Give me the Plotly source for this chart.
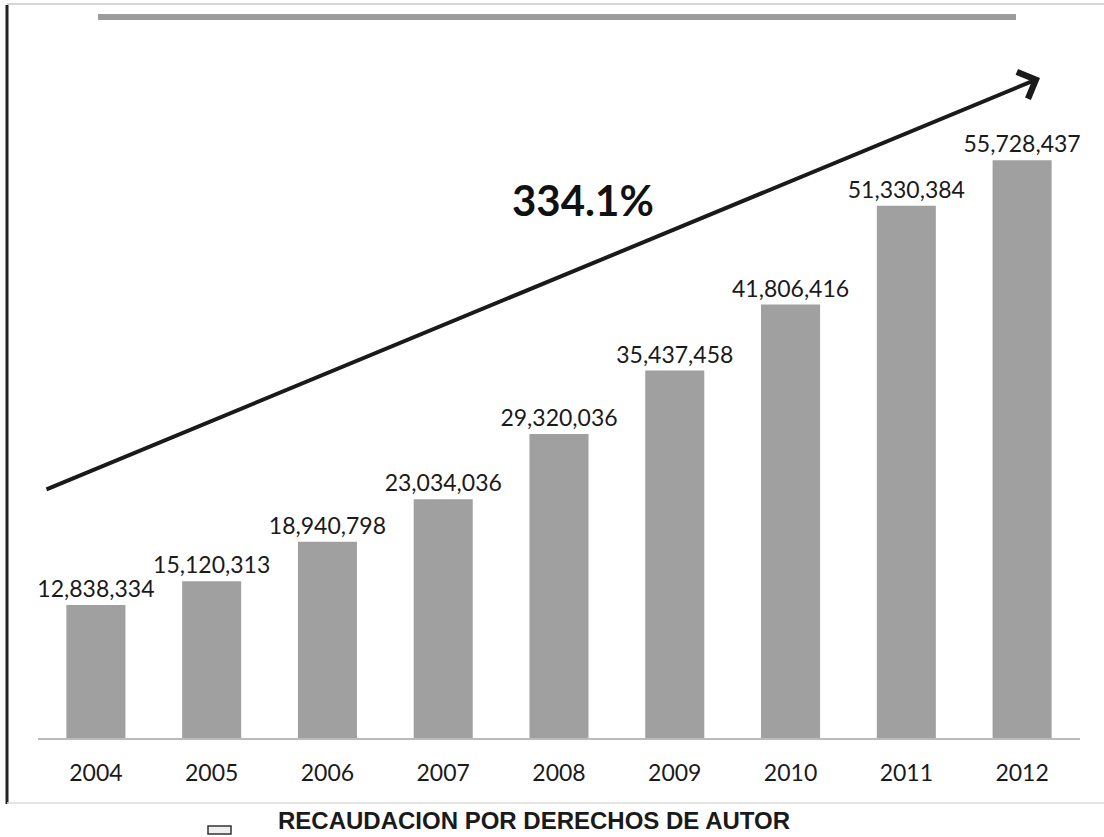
import plotly.graph_objects as go

years = ["2004", "2005", "2006", "2007", "2008", "2009", "2010", "2011", "2012"]
recaudacion = [12838334, 15120313, 18940798, 23034036, 29320036, 35437458, 41806416, 51330384, 55728437]
series_name = "RECAUDACION POR DERECHOS DE AUTOR"
growth_label = "334.1%"

labels = [f"{v:,}" for v in recaudacion]

fig = go.Figure()
fig.add_trace(go.Bar(
    x=years, y=recaudacion, name=series_name,
    marker=dict(color="#a0a0a0", line=dict(width=0)),
    text=labels, textposition="outside", cliponaxis=False, constraintext="none",
    textfont=dict(family="Lato, Open Sans, sans-serif", size=23, color="#1a1a1a"),
    showlegend=False,
))

L, R, T, B = 38, 24, 60, 99
PW, PH = 1104 - L - R, 837 - T - B

def px(x):
    return (x - L) / PW

def py(y):
    return (837 - B - y) / PH

fig.update_layout(
    width=1104, height=837,
    margin=dict(l=L, r=R, t=T, b=B, autoexpand=False),
    plot_bgcolor="white", paper_bgcolor="white",
    bargap=0.49,
    xaxis=dict(showgrid=False, showline=True, linecolor="#bbbbbb", linewidth=1.5,
               ticks="", tickfont=dict(family="Lato, Open Sans, sans-serif", size=23, color="#1a1a1a"),
               ticklabelstandoff=14),
    yaxis=dict(visible=False, range=[0, 65400000]),
    showlegend=False,
    font=dict(family="Lato, sans-serif"),
)

# legend (drawn)
fig.add_shape(type="rect", xref="paper", yref="paper", x0=px(208), x1=px(231),
              y0=py(834), y1=py(826), line=dict(color="#333333", width=1.5), fillcolor="#eeeeee")
fig.add_annotation(xref="paper", yref="paper", x=px(276), y=py(820), xanchor="left", yanchor="middle",
                   text=f"<b>{series_name}</b>", showarrow=False,
                   font=dict(family="Liberation Sans, Arial, sans-serif", size=24, color="#1a1a1a"))

# decorations: frame lines and top gray band
fig.add_shape(type="line", xref="paper", yref="paper", x0=px(7), x1=px(7),
              y0=py(5), y1=py(804), line=dict(color="#222222", width=3))
fig.add_shape(type="line", xref="paper", yref="paper", x0=px(7), x1=px(1104),
              y0=py(4), y1=py(4), line=dict(color="#c8c8c8", width=1.5))
fig.add_shape(type="line", xref="paper", yref="paper", x0=px(7), x1=px(1104),
              y0=py(803), y1=py(803), line=dict(color="#dddddd", width=1.5))
fig.add_shape(type="line", xref="paper", yref="paper", x0=px(98), x1=px(1016),
              y0=py(17), y1=py(17), line=dict(color="#9c9c9c", width=6))

# growth arrow
fig.add_annotation(xref="x domain", yref="y domain", axref="x domain", ayref="y domain",
                   x=px(1040), y=py(78), ax=px(45), ay=py(490),
                   text="", showarrow=True, arrowhead=4, arrowsize=1.4, arrowwidth=4,
                   arrowcolor="#1a1a1a")
fig.add_annotation(xref="paper", yref="paper", x=px(583), y=py(200), yanchor="middle",
                   text=f"<b>{growth_label}</b>", showarrow=False,
                   font=dict(family="Lato, Open Sans, sans-serif", size=42, color="#111111"))

fig.write_html("out.html", config={"displayModeBar": False},
               post_script="document.body.style.margin='0';document.body.style.overflow='hidden';")
